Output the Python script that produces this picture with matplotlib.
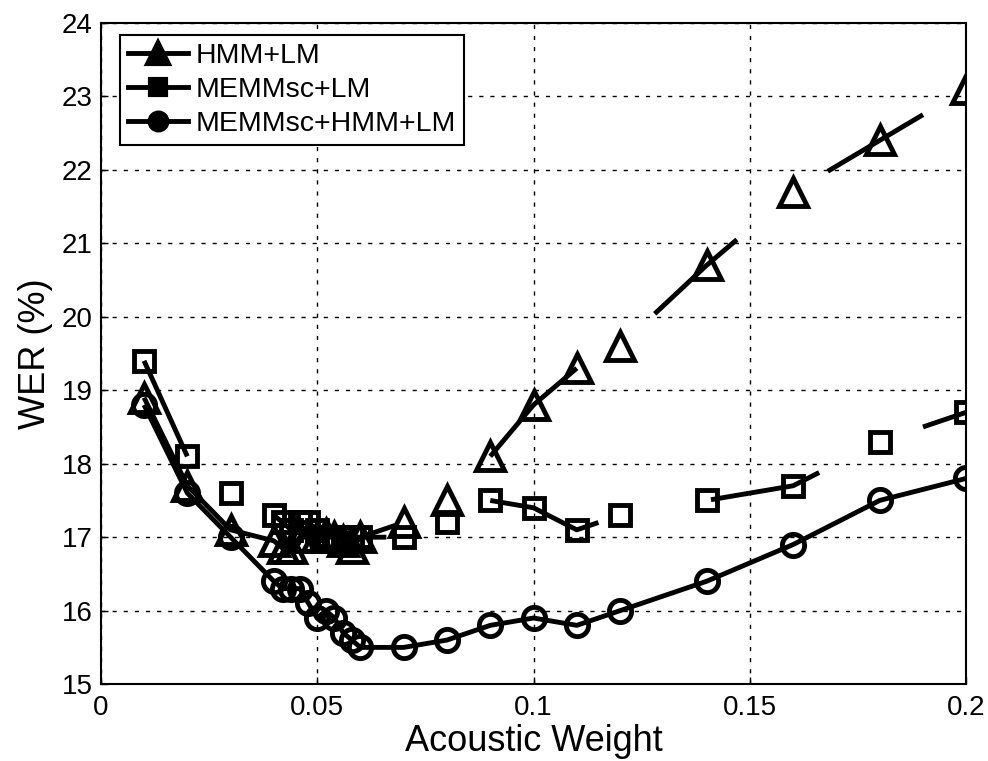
import numpy as np
import matplotlib.pyplot as plt
from matplotlib.lines import Line2D

plt.rcParams['font.family'] = ['Liberation Sans', 'DejaVu Sans']

# acoustic weights
x_short = [0.01, 0.02, 0.03, 0.04, 0.042, 0.044, 0.046, 0.048, 0.05, 0.052,
           0.054, 0.056, 0.058, 0.06, 0.07, 0.08, 0.09, 0.1, 0.11, 0.12,
           0.14, 0.16, 0.18, 0.2]

# WER (%)
hmm_lm = [18.9, 17.7, 17.1, 16.95, 16.85, 16.85, 17.0, 17.0, 17.0, 17.05,
          17.0, 16.95, 16.85, 17.0, 17.2, 17.5, 18.1, 18.8, 19.3, 19.6,
          20.7, 21.7, 22.4, 23.1]
memm_lm = [19.4, 18.1, 17.6, 17.3, 17.2, 17.1, 17.2, 17.2, 17.1, 17.0,
           17.0, 17.0, 17.0, 17.0, 17.0, 17.2, 17.5, 17.4, 17.1, 17.3,
           17.5, 17.7, 18.3, 18.7]
memm_hmm_lm = [18.8, 17.6, 17.0, 16.4, 16.3, 16.3, 16.3, 16.1, 15.9, 16.0,
               15.9, 15.7, 15.6, 15.5, 15.5, 15.6, 15.8, 15.9, 15.8, 16.0,
               16.4, 16.9, 17.5, 17.8]

labels = ['HMM+LM', 'MEMMsc+LM', 'MEMMsc+HMM+LM']

# the scanned figure only shows parts of some connecting lines
hmm_spans = [(0.01, 0.068), (0.09, 0.11), (0.128, 0.147), (0.168, 0.19)]
memm_spans = [(0.01, 0.02), (0.04, 0.066), (0.09, 0.115), (0.141, 0.166), (0.19, 0.2)]
comb_spans = [(0.01, 0.2)]

fig = plt.figure(figsize=(9.88, 7.61), dpi=100)
ax = fig.add_axes([0.102, 0.101, 0.876, 0.869])

x = np.array(x_short)
series = [
    (hmm_lm, hmm_spans, '^', 20),
    (memm_lm, memm_spans, 's', 14),
    (memm_hmm_lm, comb_spans, 'o', 16),
]

handles = []
for (y, spans, mk, ms), lab in zip(series, labels):
    y = np.array(y)
    for x0, x1 in spans:
        inner = x[(x > x0) & (x < x1)]
        xs = np.concatenate([[x0], inner, [x1]])
        ax.plot(xs, np.interp(xs, x, y), color='black', lw=3.5,
                solid_capstyle='butt')
    ax.plot(x, y, linestyle='none', marker=mk, markersize=ms,
            markerfacecolor='none', markeredgecolor='black', markeredgewidth=3.5)
    handles.append(Line2D([], [], color='black', lw=3.5, marker=mk,
                          markersize=ms * 0.8, markerfacecolor='black',
                          markeredgecolor='black', markeredgewidth=3))

ax.set_xlim(0, 0.2)
ax.set_ylim(15, 24)
ax.set_xticks([0, 0.05, 0.1, 0.15, 0.2])
ax.set_xticklabels(['0', '0.05', '0.1', '0.15', '0.2'])
ax.set_yticks(range(15, 25))
ax.grid(True, color='black', linestyle=(0, (3, 5)), linewidth=1)
ax.tick_params(direction='in', labelsize=20, length=5, width=1)
ax.tick_params(axis='x', pad=8)
ax.tick_params(axis='y', pad=6)
for s in ax.spines.values():
    s.set_linewidth(1.5)

ax.set_xlabel('Acoustic Weight', fontsize=26, labelpad=2)
ax.set_ylabel('WER (%)', fontsize=26, labelpad=6)

leg = ax.legend(handles, labels, loc='upper left', fontsize=20.5,
                bbox_to_anchor=(0.022, 0.982), borderaxespad=0,
                handlelength=2.1, handletextpad=0.28, borderpad=0.28,
                labelspacing=0.28, fancybox=False, framealpha=1,
                edgecolor='black')
leg.get_frame().set_linewidth(1.5)

fig.savefig('out.png', dpi=100)
